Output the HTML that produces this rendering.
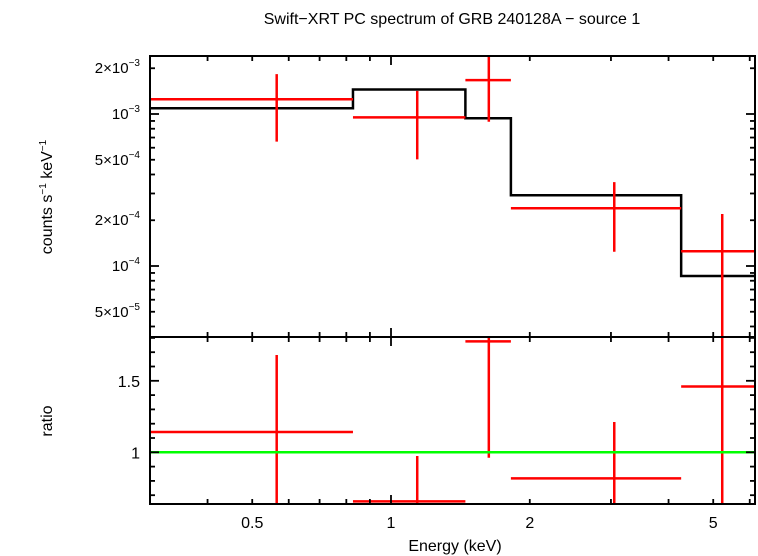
<!DOCTYPE html>
<html><head><meta charset="utf-8"><style>
html,body{margin:0;padding:0;background:#fff}
svg{display:block;font-family:"Liberation Sans",sans-serif}
</style></head><body>
<svg id="c" width="758" height="556" viewBox="0 0 758 556" xmlns="http://www.w3.org/2000/svg">
<text x="452" y="24" font-size="16" text-anchor="middle">Swift−XRT PC spectrum of GRB 240128A − source 1</text>
<text transform="translate(52,197) rotate(-90)" font-size="16" text-anchor="middle">counts s<tspan font-size="10" dy="-6">−1</tspan><tspan dy="6"> keV</tspan><tspan font-size="10" dy="-6">−1</tspan></text>
<text transform="translate(52,421) rotate(-90)" font-size="16" text-anchor="middle">ratio</text>
<text x="455" y="551" font-size="16" text-anchor="middle">Energy (keV)</text>
<g id="g"></g>
</svg>
<script>
// data
const binEdges=[0.30,0.827,1.45,1.82,4.26,6.3];
const modelVals=[1.09e-3,1.45e-3,9.37e-4,2.92e-4,8.6e-5];
const ptCenter=[0.565,1.14,1.63,3.05,5.23];
const ptLo=[0.30,0.827,1.45,1.82,4.26];
const ptHi=[0.827,1.45,1.82,4.26,6.3];
const ptVal=[1.25e-3,9.5e-4,1.67e-3,2.40e-4,1.25e-4];
const ptErrHi=[1.83e-3,1.42e-3,2.5e-3,3.56e-4,2.2e-4];
const ptErrLo=[6.58e-4,5.03e-4,8.9e-4,1.24e-4,2e-5];
const ratioVal=[1.142,0.657,1.776,0.818,1.46];
const ratioErrHi=[1.68,0.974,2.0,1.212,2.5];
const ratioErrLo=[0.5,0.5,0.962,0.5,0.5];
const xTickLabels=[0.5,1,2,5];
const yTopLabels=[[2e-3,"2×10","−3"],[1e-3,"10","−3"],[5e-4,"5×10","−4"],[2e-4,"2×10","−4"],[1e-4,"10","−4"],[5e-5,"5×10","−5"]];
const yBotLabels=[1.5,1];

const L=150,R=755,T=56,M=337,B=504;
const X=e=>391+461*Math.log10(e);
const Yt=v=>114-152*(Math.log10(v)+3);
const Yb=r=>452.3-143*(r-1);
const NS="http://www.w3.org/2000/svg";
const g=document.getElementById('g');
function mk(t,a,p){const e=document.createElementNS(NS,t);for(const k in a)e.setAttribute(k,a[k]);(p||g).appendChild(e);return e;}
function ln(x1,y1,x2,y2,c,w,name){const e=mk('line',{x1,y1,x2,y2,stroke:c,'stroke-width':w});
return e;}
const cl=(v,a,b)=>Math.max(a,Math.min(b,v));

// clip paths
const defs=mk('defs',{});
const c1=mk('clipPath',{id:'ct'},defs);mk('rect',{x:L,y:T,width:R-L,height:M-T},c1);
const c2=mk('clipPath',{id:'cb'},defs);mk('rect',{x:L,y:M,width:R-L,height:B-M},c2);
const gt=mk('g',{'clip-path':'url(#ct)'});const gb=mk('g',{'clip-path':'url(#cb)'});

// model step
let d='';
for(let i=0;i<modelVals.length;i++){const y=Yt(modelVals[i]);d+=(i?'L':'M')+X(binEdges[i])+','+y+'L'+X(binEdges[i+1])+','+y;}
const mp=mk('path',{d,fill:'none',stroke:'#000','stroke-width':2.5},gt);


// data points
for(let i=0;i<ptVal.length;i++){
 const a=ln(X(ptLo[i]),Yt(ptVal[i]),X(ptHi[i]),Yt(ptVal[i]),'#f00',2.5,'data-point-xerr');gt.appendChild(a);
 const b=ln(X(ptCenter[i]),Yt(ptErrHi[i]),X(ptCenter[i]),Yt(ptErrLo[i]),'#f00',2.5,'data-point-yerr');gt.appendChild(b);
 const c=ln(X(ptLo[i]),Yb(ratioVal[i]),X(ptHi[i]),Yb(ratioVal[i]),'#f00',2.5,'ratio-point-xerr');gb.appendChild(c);
 const e=ln(X(ptCenter[i]),Yb(ratioErrHi[i]),X(ptCenter[i]),Yb(ratioErrLo[i]),'#f00',2.5,'ratio-point-yerr');gb.appendChild(e);
}
const gl=ln(L,Yb(1),R,Yb(1),'#0f0',2.5,'ratio-unity-line');gb.appendChild(gl);

// frames
for(const [y1,y2,n] of [[T,M,'top-panel-frame'],[M,B,'bottom-panel-frame']]){
 const r=mk('rect',{x:L,y:y1,width:R-L,height:y2-y1,fill:'none',stroke:'#000','stroke-width':2});
 
 
}
// x ticks
const xt=[0.4,0.5,0.6,0.7,0.8,0.9,1,2,3,4,5,6];
for(const e of xt){const x=X(e);if(x<L||x>R)continue;const len=(e===1)?9:5;
 for(const [y,s] of [[T,1],[M,-1],[M,1],[B,-1]]) ln(x,y,x,y+s*len,'#000',1.8,'x-tick');}
for(const e of xTickLabels){const t=mk('text',{x:X(e),y:528,'font-size':16,'text-anchor':'middle'});t.textContent=e;
 
 }
// y ticks top
for(let p=-5;p<=-2;p++)for(let m=1;m<10;m++){const v=m*Math.pow(10,p);const y=Yt(v);if(y<T||y>M)continue;const len=m===1?9:5;
 ln(L,y,L+len,y,'#000',1.8,'y-tick-top');ln(R,y,R-len,y,'#000',1.8,'y-tick-top');}
for(const [v,b,ex] of yTopLabels){const t=mk('text',{x:140,y:Yt(v)+5,'font-size':15,'text-anchor':'end'});
 
 
 t.textContent=b;const s=mk('tspan',{'font-size':10,dy:-7},t);s.textContent=ex;}
// y ticks bottom
for(let k=7;k<=18;k++){const r=k/10;const y=Yb(r);if(y<M||y>B)continue;const len=(k===10||k===15)?9:5;
 ln(L,y,L+len,y,'#000',1.8,'y-tick-bottom');ln(R,y,R-len,y,'#000',1.8,'y-tick-bottom');}
for(const r of yBotLabels){const t=mk('text',{x:140,y:Yb(r)+6,'font-size':16,'text-anchor':'end'});t.textContent=r;
 
 }
</script>
</body></html>
